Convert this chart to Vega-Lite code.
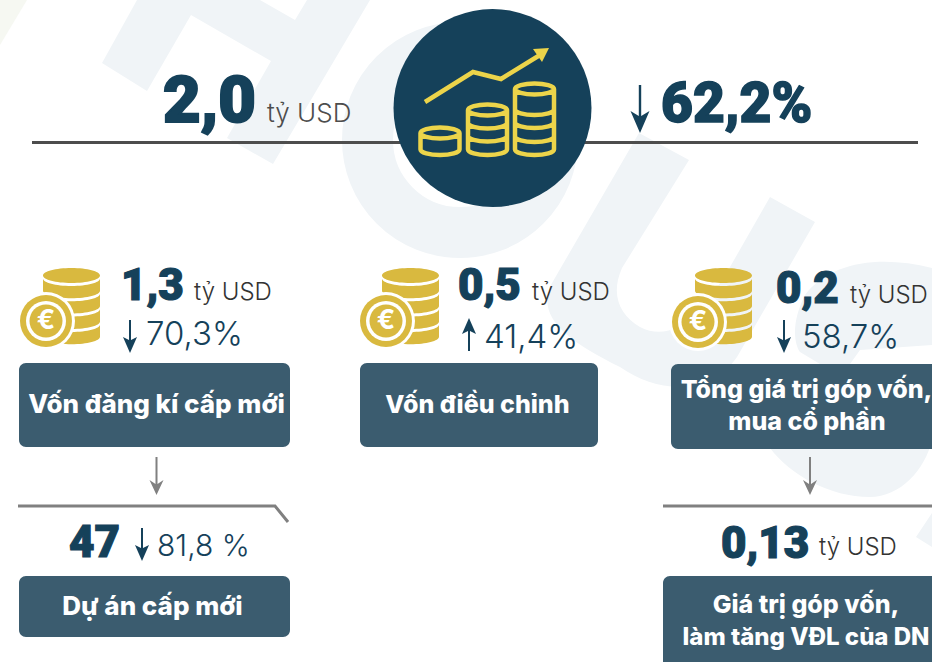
{
"$schema":"https://vega.github.io/schema/vega-lite/v6.json",
"width":932,"height":662,"padding":0,"autosize":{"type":"none"},"background":"#ffffff",
"config":{"view":{"stroke":null}},
"datasets":{
"texts":[
{"role":"heroValue","text":"2,0","x":163,"y":122},
{"role":"heroPct","text":"62,2%","x":661,"y":122},
{"role":"heroUnit","text":"tỷ USD","x":267,"y":122},
{"role":"metric","text":"1,3","x":121,"y":300},
{"role":"metric","text":"0,5","x":458,"y":300},
{"role":"metric","text":"0,2","x":776,"y":303},
{"role":"metric","text":"47","x":69,"y":557},
{"role":"metric","text":"0,13","x":721,"y":558},
{"role":"unit","text":"tỷ USD","x":194,"y":300},
{"role":"unit","text":"tỷ USD","x":532,"y":300},
{"role":"unit","text":"tỷ USD","x":850,"y":303},
{"role":"unit","text":"tỷ USD","x":819,"y":555},
{"role":"pct","text":"70,3%","x":146,"y":345},
{"role":"pct","text":"41,4%","x":484,"y":348},
{"role":"pct","text":"58,7%","x":802,"y":348},
{"role":"pct2","text":"81,8 %","x":157,"y":556},
{"role":"labelWide","text":"Vốn đăng kí cấp mới","x":156.5,"y":413},
{"role":"label","text":"Vốn điều chỉnh","x":477.5,"y":413},
{"role":"label","text":"Tổng giá trị góp vốn,","x":806.5,"y":398},
{"role":"label","text":"mua cổ phần","x":807,"y":430},
{"role":"labelWide","text":"Dự án cấp mới","x":152.5,"y":615},
{"role":"label","text":"Giá trị góp vốn,","x":806,"y":613},
{"role":"labelNarrow","text":"làm tăng VĐL của DN","x":806,"y":645}
],
"boxes":[
{"name":"Vốn đăng kí cấp mới","x":19,"x2":290,"y":363,"y2":447},
{"name":"Vốn điều chỉnh","x":360,"x2":598,"y":363,"y2":447},
{"name":"Tổng giá trị góp vốn","x":671,"x2":945,"y":364,"y2":449},
{"name":"Dự án cấp mới","x":19,"x2":290,"y":576,"y2":637},
{"name":"Giá trị góp vốn","x":663,"x2":945,"y":576,"y2":685}
],
"coins":[{"name":"Vốn đăng kí","x":46,"y":321,"sx":71.5,"sy":307},{"name":"Vốn điều chỉnh","x":386,"y":321,"sx":410.5,"sy":307},{"name":"Góp vốn","x":698,"y":322,"sx":723.5,"sy":307}],
"downArrows":[{"x":130,"y":337},{"x":784,"y":337},{"x":142,"y":545}],
"upArrows":[{"x":469,"y":334}],
"grayArrows":[{"x":156.5,"y":476},{"x":810,"y":476}],
"heroLine":[{"path":"a","x":32,"y":142.5,"o":1},{"path":"a","x":918,"y":142.5,"o":2}],
"grayLines":[{"path":"l","x":18,"y":506,"o":1},{"path":"l","x":275,"y":506,"o":2},{"path":"l","x":288,"y":522,"o":3},{"path":"r","x":663,"y":506,"o":1},{"path":"r","x":932,"y":506,"o":2}],
"trend":[{"x":425,"y":102,"o":1},{"x":473,"y":72,"o":2},{"x":501,"y":79,"o":3},{"x":540,"y":55,"o":4}]
},
"encoding":{
"x":{"field":"x","type":"quantitative","scale":{"domain":[0,932],"range":[0,932],"nice":false,"zero":false},"axis":null},
"y":{"field":"y","type":"quantitative","scale":{"domain":[0,662],"range":[0,662],"nice":false,"zero":false},"axis":null}
},
"layer":[
{"data":{"values":[{"x":0,"y":0}]},"mark":{"type":"point","filled":true,"opacity":1,"size":4,"color":"#f0f4f7","strokeWidth":0,"shape":"M102 63L147 91L191 15L271 61L227 138L273 164L370 0L307 0L295 20L260 0L137 0ZM639 133L689 160L622 268C610 295 620 315 640 327C675 345 705 310 730 267L770 197L815 222L737 357C710 395 660 395 620 367C565 340 535 315 552 283ZM932 268C880 255 830 262 805 295C790 325 795 345 800 352L820 364L850 364L860 350L932 345ZM770 448C790 475 830 497 870 497C900 497 925 470 932 440L760 440ZM916 537L932 513L932 547Z"}},
{"data":{"values":[{"x":0,"y":0}]},"mark":{"type":"point","filled":true,"opacity":1,"size":4,"color":"#f6f8f2","strokeWidth":0,"shape":"M0 0L27 0L0 45Z"}},
{"data":{"values":[{"x":460,"y":140}]},"mark":{"type":"point","filled":false,"opacity":1,"size":34225,"stroke":"#f0f4f7","strokeWidth":51,"shape":"circle"}},
{"data":{"name":"heroLine"},"mark":{"type":"line","color":"#4d4d4d","strokeWidth":3},"encoding":{"order":{"field":"o"},"detail":{"field":"path"}}},
{"data":{"values":[{"x":492.5,"y":108}]},"mark":{"type":"point","filled":true,"opacity":1,"size":39204,"color":"#15415a","shape":"circle","strokeWidth":0}},
{"data":{"name":"trend"},"mark":{"type":"line","color":"#ecd44a","strokeWidth":4.5,"strokeJoin":"miter"},"encoding":{"order":{"field":"o"}}},
{"data":{"values":[{"x":540,"y":55}]},"mark":{"type":"point","filled":true,"opacity":1,"size":4,"color":"#ecd44a","strokeWidth":0,"shape":"M9 -7L-7 -6L2 7Z"}},
{"data":{"values":[{"name":"right","x":534.5,"y":89}]},"mark":{"type":"point","filled":false,"opacity":1,"size":4,"stroke":"#ecd44a","strokeWidth":4.5,"shape":"M-19.5 0A19.5 5.5 0 1 1 19.5 0A19.5 5.5 0 1 1 -19.5 0ZM-19.5 0V60.5A19.5 5.5 0 0 0 19.5 60.5V0M-19.5 20.5A19.5 5.5 0 0 0 19.5 20.5M-19.5 33.5A19.5 5.5 0 0 0 19.5 33.5M-19.5 47.5A19.5 5.5 0 0 0 19.5 47.5"}},
{"data":{"values":[{"name":"middle","x":487.5,"y":110}]},"mark":{"type":"point","filled":false,"opacity":1,"size":4,"stroke":"#ecd44a","strokeWidth":4.5,"shape":"M-19.5 0A19.5 5.5 0 1 1 19.5 0A19.5 5.5 0 1 1 -19.5 0ZM-19.5 0V39.5A19.5 5.5 0 0 0 19.5 39.5V0M-19.5 13A19.5 5.5 0 0 0 19.5 13M-19.5 26A19.5 5.5 0 0 0 19.5 26"}},
{"data":{"values":[{"name":"left","x":440,"y":133}]},"mark":{"type":"point","filled":false,"opacity":1,"size":4,"stroke":"#ecd44a","strokeWidth":4.5,"shape":"M-19.5 0A19.5 5.5 0 1 1 19.5 0A19.5 5.5 0 1 1 -19.5 0ZM-19.5 0V16.5A19.5 5.5 0 0 0 19.5 16.5V0"}},
{"data":{"name":"boxes"},"mark":{"type":"rect","color":"#3b5c6f","cornerRadius":7},"encoding":{"x2":{"field":"x2"},"y2":{"field":"y2"}}},
{"data":{"name":"grayLines"},"mark":{"type":"line","color":"#808080","strokeWidth":3},"encoding":{"order":{"field":"o"},"detail":{"field":"path"}}},
{"data":{"values":[{"x":640,"y":109}]},"mark":{"type":"point","filled":true,"opacity":1,"size":4,"color":"#15415a","strokeWidth":0,"shape":"M-1.2 -24H1.2V7L9.5 2L0 24L-9.5 2L-1.2 7Z"}},
{"data":{"name":"downArrows"},"mark":{"type":"point","filled":true,"opacity":1,"size":4,"color":"#15415a","strokeWidth":0,"shape":"M-1 -17H1V3L7 0L0 16L-7 0L-1 3Z"}},
{"data":{"name":"upArrows"},"mark":{"type":"point","filled":true,"opacity":1,"size":4,"color":"#15415a","strokeWidth":0,"shape":"M-1 17H1V-3L7 0L0 -16L-7 0L-1 -3Z"}},
{"data":{"name":"grayArrows"},"mark":{"type":"point","filled":true,"opacity":1,"size":4,"color":"#808080","strokeWidth":0,"shape":"M-1 -19H1V8L7 4L0 19L-7 4L-1 8Z"}},
{"data":{"name":"coins"},"mark":{"type":"point","filled":true,"opacity":1,"size":4,"color":"#d9b93f","strokeWidth":0,"shape":"M-28.5 -31.5A28.5 7.5 0 1 1 28.5 -31.5A28.5 7.5 0 1 1 -28.5 -31.5ZM-28.5 -28.5A28.5 7.5 0 0 0 28.5 -28.5V-16.2A28.5 7.5 0 0 1 -28.5 -16.2ZM-28.5 -13.2A28.5 7.5 0 0 0 28.5 -13.2V-0.9A28.5 7.5 0 0 1 -28.5 -0.9ZM-28.5 2.1A28.5 7.5 0 0 0 28.5 2.1V14.4A28.5 7.5 0 0 1 -28.5 14.4ZM-28.5 17.4A28.5 7.5 0 0 0 28.5 17.4V29.7A28.5 7.5 0 0 1 -28.5 29.7Z"},"encoding":{"x":{"field":"sx","type":"quantitative"},"y":{"field":"sy","type":"quantitative"}}},
{"data":{"name":"coins"},"mark":{"type":"point","filled":true,"opacity":1,"size":3364,"color":"#ffffff","shape":"circle","strokeWidth":0}},
{"data":{"name":"coins"},"mark":{"type":"point","filled":true,"opacity":1,"size":2704,"color":"#d9b93f","shape":"circle","strokeWidth":0}},
{"data":{"name":"coins"},"mark":{"type":"point","filled":true,"opacity":1,"size":1600,"color":"#ffffff","shape":"circle","strokeWidth":0}},
{"data":{"name":"coins"},"mark":{"type":"point","filled":true,"opacity":1,"size":1089,"color":"#d9b93f","shape":"circle","strokeWidth":0}},
{"data":{"name":"coins"},"mark":{"type":"text","text":"€","font":"Inter","fontWeight":700,"fontSize":27,"color":"#ffffff","align":"center","baseline":"middle"}},
{"data":{"name":"texts"},"transform":[{"filter":"datum.role=='heroValue'"}],"mark":{"type":"text","font":"Roboto","fontWeight":900,"fontSize":65,"color":"#15415a","stroke":"#15415a","strokeWidth":2,"align":"left","baseline":"alphabetic"},"encoding":{"text":{"field":"text"}}},
{"data":{"name":"texts"},"transform":[{"filter":"datum.role=='heroPct'"}],"mark":{"type":"text","font":"Roboto","fontWeight":900,"fontSize":55,"color":"#15415a","stroke":"#15415a","strokeWidth":1.5,"align":"left","baseline":"alphabetic"},"encoding":{"text":{"field":"text"}}},
{"data":{"name":"texts"},"transform":[{"filter":"datum.role=='heroUnit'"}],"mark":{"type":"text","font":"Inter","fontWeight":300,"fontSize":26,"color":"#4d4d4d","align":"left","baseline":"alphabetic"},"encoding":{"text":{"field":"text"}}},
{"data":{"name":"texts"},"transform":[{"filter":"datum.role=='metric'"}],"mark":{"type":"text","font":"Roboto","fontWeight":900,"fontSize":44,"color":"#15415a","stroke":"#15415a","strokeWidth":1.2,"align":"left","baseline":"alphabetic"},"encoding":{"text":{"field":"text"}}},
{"data":{"name":"texts"},"transform":[{"filter":"datum.role=='unit'"}],"mark":{"type":"text","font":"Inter","fontWeight":300,"fontSize":24,"color":"#333333","align":"left","baseline":"alphabetic"},"encoding":{"text":{"field":"text"}}},
{"data":{"name":"texts"},"transform":[{"filter":"datum.role=='pct'"}],"mark":{"type":"text","font":"Inter","fontWeight":300,"fontSize":33,"color":"#15415a","align":"left","baseline":"alphabetic"},"encoding":{"text":{"field":"text"}}},
{"data":{"name":"texts"},"transform":[{"filter":"datum.role=='pct2'"}],"mark":{"type":"text","font":"Inter","fontWeight":300,"fontSize":30,"color":"#15415a","align":"left","baseline":"alphabetic"},"encoding":{"text":{"field":"text"}}},
{"data":{"name":"texts"},"transform":[{"filter":"datum.role=='label'"}],"mark":{"type":"text","font":"Inter","fontWeight":800,"fontSize":25,"color":"#ffffff","align":"center","baseline":"alphabetic"},"encoding":{"text":{"field":"text"}}},
{"data":{"name":"texts"},"transform":[{"filter":"datum.role=='labelWide'"}],"mark":{"type":"text","font":"Inter","fontWeight":800,"fontSize":26,"color":"#ffffff","align":"center","baseline":"alphabetic"},"encoding":{"text":{"field":"text"}}},
{"data":{"name":"texts"},"transform":[{"filter":"datum.role=='labelNarrow'"}],"mark":{"type":"text","font":"Inter","fontWeight":800,"fontSize":24,"color":"#ffffff","align":"center","baseline":"alphabetic"},"encoding":{"text":{"field":"text"}}}
]
}
